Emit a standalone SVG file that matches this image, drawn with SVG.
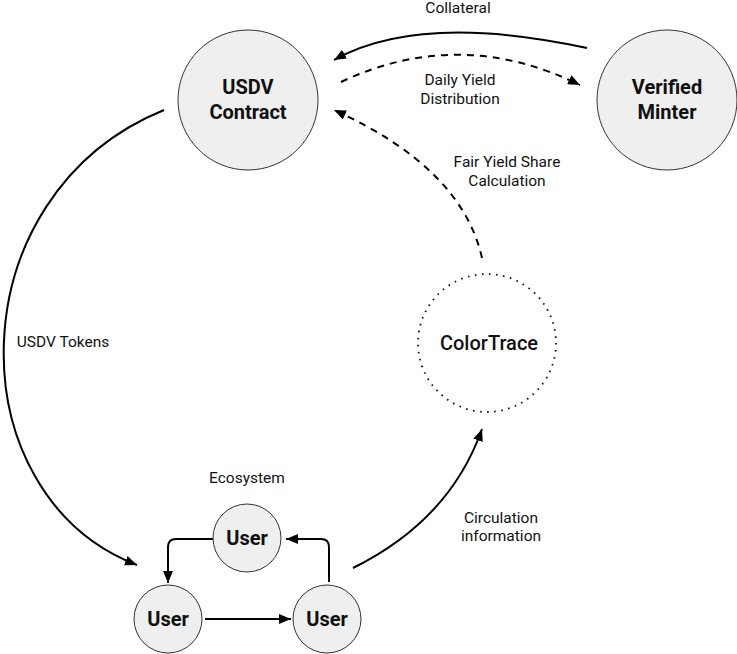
<svg xmlns="http://www.w3.org/2000/svg" width="737" height="654" viewBox="0 0 737 654">
<style>
.node{fill:#efefef;stroke:#333;stroke-width:1}
.dot{fill:#fff;stroke:#111;stroke-width:1.8;stroke-dasharray:1.6 5.5}
.nt{font-family:Roboto,"Liberation Sans",sans-serif;font-size:20px;font-weight:bold;fill:#111;text-anchor:middle}
.ut{font-family:Roboto,"Liberation Sans",sans-serif;font-size:20px;font-weight:bold;fill:#111;text-anchor:middle}
.lb{font-family:Roboto,"Liberation Sans",sans-serif;font-size:15.5px;fill:#111;text-anchor:middle}
.e{fill:none;stroke:#000;stroke-width:2}
.d{stroke-dasharray:7 6}
</style>
<defs>
<marker id="ah" markerWidth="12" markerHeight="10" refX="12" refY="5" orient="auto" markerUnits="userSpaceOnUse">
<path d="M0,0 L12,5 L0,10 Z" fill="#000"/>
</marker>
</defs>
<rect width="737" height="654" fill="#fff"/>
<g id="connectors">
<path class="e" d="M587 48 Q420 12 334 60" marker-end="url(#ah)"/>
<path class="e d" d="M341 82 Q460 26 580 85" marker-end="url(#ah)"/>
<path class="e d" d="M482 258 Q462 168 334 110" marker-end="url(#ah)"/>
<path class="e" d="M164 110 C-45 195 -45 495 137 565" marker-end="url(#ah)"/>
<path class="e" d="M353 568 Q450 520 482 429" marker-end="url(#ah)"/>
<path class="e" d="M213 539 L176 539 Q168 539 168 547 L168 583" marker-end="url(#ah)"/>
<path class="e" d="M205 619 L291 619" marker-end="url(#ah)"/>
<path class="e" d="M329 582 L329 547 Q329 539 321 539 L286 539" marker-end="url(#ah)"/>
</g>
<g id="labels">
<text class="lb" x="458" y="13">Collateral</text>
<text class="lb" x="460" y="85">Daily Yield</text>
<text class="lb" x="460" y="104">Distribution</text>
<text class="lb" x="507" y="167">Fair Yield Share</text>
<text class="lb" x="507" y="186">Calculation</text>
<text class="lb" x="63" y="347">USDV Tokens</text>
<text class="lb" x="247" y="483">Ecosystem</text>
<text class="lb" x="501" y="523">Circulation</text>
<text class="lb" x="501" y="541">information</text>
</g>
<g id="usdv-contract">
<circle class="node" cx="248" cy="100" r="70"/>
<text class="nt" x="248" y="94">USDV</text>
<text class="nt" x="248" y="119">Contract</text>
</g>
<g id="verified-minter">
<circle class="node" cx="667" cy="100" r="70"/>
<text class="nt" x="667" y="94">Verified</text>
<text class="nt" x="667" y="119">Minter</text>
</g>
<g id="colortrace">
<circle class="dot" cx="487" cy="343" r="69"/>
<text class="nt" x="489" y="350" style="font-weight:500">ColorTrace</text>
</g>
<g id="user-top">
<circle class="node" cx="247" cy="538" r="34"/>
<text class="ut" x="247" y="545">User</text>
</g>
<g id="user-left">
<circle class="node" cx="168" cy="619" r="34"/>
<text class="ut" x="168" y="626">User</text>
</g>
<g id="user-right">
<circle class="node" cx="327" cy="619" r="34"/>
<text class="ut" x="327" y="626">User</text>
</g>
</svg>
